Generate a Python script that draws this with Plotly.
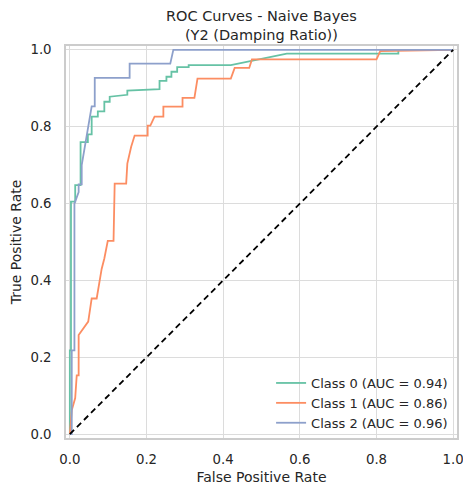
import plotly.graph_objects as go

# Class 0 (AUC = 0.94)
fpr_c0 = [0.0, 0.0, 0.003, 0.003, 0.014, 0.014, 0.028, 0.028, 0.047, 0.047, 0.057, 0.057,
          0.073, 0.073, 0.09, 0.09, 0.104, 0.104, 0.15, 0.15, 0.234, 0.234, 0.252, 0.252,
          0.265, 0.265, 0.28, 0.28, 0.31, 0.31, 0.42, 0.47, 0.54, 0.566, 0.857, 0.857, 1.0]
tpr_c0 = [0.0, 0.218, 0.218, 0.605, 0.605, 0.648, 0.648, 0.76, 0.76, 0.78, 0.78, 0.826,
          0.826, 0.84, 0.84, 0.865, 0.865, 0.878, 0.883, 0.894, 0.898, 0.919, 0.919, 0.93,
          0.93, 0.943, 0.943, 0.955, 0.955, 0.96, 0.96, 0.97, 0.985, 0.99, 0.99, 1.0, 1.0]

# Class 1 (AUC = 0.86)
fpr_c1 = [0.0, 0.005, 0.014, 0.018, 0.023, 0.023, 0.048, 0.057, 0.07, 0.075, 0.083, 0.09,
          0.099, 0.114, 0.117, 0.135, 0.147, 0.15, 0.16, 0.169, 0.203, 0.203, 0.21, 0.221,
          0.244, 0.244, 0.294, 0.294, 0.325, 0.333, 0.42, 0.43, 0.468, 0.475, 0.8, 0.81, 1.0]
tpr_c1 = [0.0, 0.062, 0.094, 0.153, 0.153, 0.258, 0.293, 0.353, 0.353, 0.384, 0.43, 0.457,
          0.503, 0.503, 0.652, 0.652, 0.652, 0.704, 0.748, 0.777, 0.777, 0.803, 0.803, 0.826,
          0.826, 0.852, 0.852, 0.875, 0.875, 0.925, 0.925, 0.953, 0.953, 0.975, 0.975, 0.997, 1.0]

# Class 2 (AUC = 0.96)
fpr_c2 = [0.0, 0.005, 0.005, 0.012, 0.012, 0.023, 0.023, 0.031, 0.031, 0.057, 0.057, 0.065,
          0.065, 0.07, 0.156, 0.156, 0.262, 0.27, 1.0]
tpr_c2 = [0.0, 0.0, 0.218, 0.218, 0.6, 0.63, 0.65, 0.65, 0.7, 0.85, 0.853, 0.853,
          0.927, 0.927, 0.927, 0.964, 0.964, 1.0, 1.0]

labels = ["Class 0 (AUC = 0.94)", "Class 1 (AUC = 0.86)", "Class 2 (AUC = 0.96)"]
colors = ["#66c2a5", "#fc8d62", "#8da0cb"]
diag = [0.0, 1.0]
ticks = [0.0, 0.2, 0.4, 0.6, 0.8, 1.0]
tick_text = ["0.0", "0.2", "0.4", "0.6", "0.8", "1.0"]

fig = go.Figure()
for fx, fy, lab, col in zip([fpr_c0, fpr_c1, fpr_c2], [tpr_c0, tpr_c1, tpr_c2], labels, colors):
    fig.add_trace(go.Scatter(x=fx, y=fy, mode="lines", name=lab,
                             line=dict(color=col, width=1.8)))
fig.add_trace(go.Scatter(x=diag, y=diag, mode="lines", showlegend=False,
                         line=dict(color="black", width=1.8, dash="6px,4px")))

axis_common = dict(range=[-0.01, 1.01], tickvals=ticks, ticktext=tick_text,
                   showgrid=True, gridcolor="#dcdcdc", gridwidth=1,
                   showline=True, linecolor="#cccccc", linewidth=1.5, mirror=True,
                   zeroline=False, ticks="", automargin=False, ticklabeloverflow="allow",
                   tickfont=dict(size=13.3, color="#262626"),
                   title_font=dict(size=14, color="#262626"))

fig.update_layout(
    width=463, height=489,
    margin=dict(l=66, r=6, t=46, b=51),
    paper_bgcolor="white", plot_bgcolor="white",
    font=dict(family="DejaVu Sans", color="#262626"),
    xaxis=dict(title=dict(text="False Positive Rate", standoff=6), ticklabelstandoff=8,
               **axis_common),
    yaxis=dict(title=dict(text="True Positive Rate", standoff=6), ticklabelstandoff=10,
               **axis_common),
    legend=dict(x=0.99, y=0.0, xanchor="right", yanchor="bottom",
                bgcolor="rgba(255,255,255,0)", borderwidth=0,
                font=dict(size=13, color="#262626"), tracegroupgap=0),
    annotations=[dict(text="ROC Curves - Naive Bayes<br>(Y2 (Damping Ratio))",
                      xref="paper", yref="paper", x=0.5, y=1, xanchor="center",
                      yanchor="bottom", yshift=1, showarrow=False,
                      font=dict(size=14.5, color="#262626"))],
)

fig.write_html("out.html", config={"displayModeBar": False},
               post_script="document.body.style.margin='0';document.body.style.padding='0';")
